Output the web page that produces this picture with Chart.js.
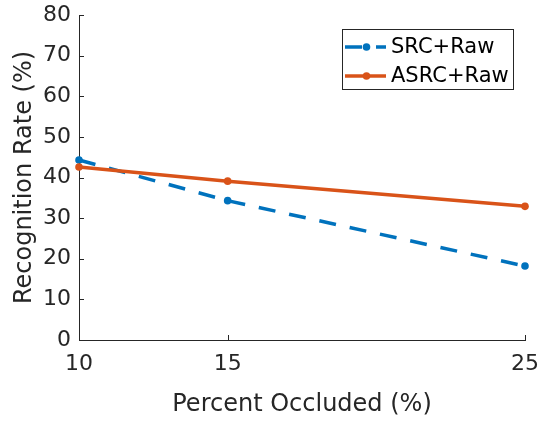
<!DOCTYPE html>
<html>
<head>
<meta charset="utf-8">
<script src="https://cdn.jsdelivr.net/npm/chart.js@4.4.1/dist/chart.umd.min.js"></script>
<style>
  html, body { margin: 0; padding: 0; background: #ffffff; }
  #wrap { width: 544px; height: 421px; }
</style>
</head>
<body>
<div id="wrap"><canvas id="chart" width="544" height="421"></canvas></div>
<script>
// Recognition rate against the share of the face that is occluded
const percentOccluded = [10, 15, 25];
const srcRaw = [44.3, 34.3, 18.2];
const asrcRaw = [42.6, 39.1, 32.9];
const seriesNames = ['SRC+Raw', 'ASRC+Raw'];
const xTickValues = [10, 15, 25];
const yTickValues = [0, 10, 20, 30, 40, 50, 60, 70, 80];

const BLUE = '#0072BD';
const ORANGE = '#D95319';
const AXIS = '#262626';
const FONT = '"DejaVu Sans", "Liberation Sans", sans-serif';
const LINE_W = 3.5;
const DOT_R = 3.8;
const DASH = [17, 14];

Chart.defaults.font.family = FONT;

const toPoints = ys => percentOccluded.map((x, i) => ({ x: x, y: ys[i] }));

// Small tick marks pointing into the plot on the left and bottom axes
const inwardTicks = {
  id: 'inwardTicks',
  afterDraw(chart) {
    const { ctx, chartArea, scales } = chart;
    const len = 5;
    ctx.save();
    ctx.strokeStyle = AXIS;
    ctx.lineWidth = 1;
    ctx.beginPath();
    yTickValues.forEach(v => {
      const y = Math.round(scales.y.getPixelForValue(v)) + 0.5;
      ctx.moveTo(chartArea.left, y);
      ctx.lineTo(chartArea.left + len, y);
    });
    xTickValues.forEach(v => {
      const x = Math.round(scales.x.getPixelForValue(v)) + 0.5;
      ctx.moveTo(x, chartArea.bottom);
      ctx.lineTo(x, chartArea.bottom - len);
    });
    ctx.stroke();
    ctx.restore();
  }
};

// Boxed legend in the upper right corner of the plot
const boxLegend = {
  id: 'boxLegend',
  afterDraw(chart) {
    const { ctx, chartArea } = chart;
    const w = 171, h = 60;
    const left = chartArea.right - 12 - w;
    const top = chartArea.top + 14;
    ctx.save();
    ctx.fillStyle = '#ffffff';
    ctx.fillRect(left, top, w, h);
    ctx.strokeStyle = AXIS;
    ctx.lineWidth = 1;
    ctx.strokeRect(Math.round(left) + 0.5, Math.round(top) + 0.5, w, h);

    const rows = [
      { name: seriesNames[0], color: BLUE, dash: DASH, y: top + 18 },
      { name: seriesNames[1], color: ORANGE, dash: [], y: top + 47 }
    ];
    rows.forEach(r => {
      const x0 = left + 3, x1 = left + 44;
      ctx.strokeStyle = r.color;
      ctx.lineWidth = LINE_W;
      ctx.lineCap = 'butt';
      ctx.setLineDash(r.dash);
      ctx.beginPath();
      ctx.moveTo(x0, r.y);
      ctx.lineTo(x1, r.y);
      ctx.stroke();
      ctx.setLineDash([]);
      ctx.fillStyle = r.color;
      ctx.beginPath();
      ctx.arc((x0 + x1) / 2 + 1, r.y, DOT_R, 0, Math.PI * 2);
      ctx.fill();
      ctx.fillStyle = '#000000';
      ctx.font = '21px ' + FONT;
      ctx.textAlign = 'left';
      ctx.textBaseline = 'middle';
      ctx.fillText(r.name, left + 49, r.y + 1);
    });
    ctx.restore();
  }
};

new Chart(document.getElementById('chart'), {
  type: 'line',
  data: {
    datasets: [
      {
        label: seriesNames[0],
        data: toPoints(srcRaw),
        borderColor: BLUE,
        backgroundColor: BLUE,
        borderWidth: LINE_W,
        borderDash: DASH,
        borderCapStyle: 'butt',
        pointRadius: DOT_R,
        pointBorderWidth: 0,
        pointBackgroundColor: BLUE,
        tension: 0,
        clip: false,
        order: 1
      },
      {
        label: seriesNames[1],
        data: toPoints(asrcRaw),
        borderColor: ORANGE,
        backgroundColor: ORANGE,
        borderWidth: LINE_W,
        pointRadius: DOT_R,
        pointBorderWidth: 0,
        pointBackgroundColor: ORANGE,
        tension: 0,
        clip: false,
        order: 0
      }
    ]
  },
  options: {
    responsive: false,
    animation: false,
    devicePixelRatio: 1,
    layout: { padding: { top: 15, right: 19, left: 0, bottom: 0 } },
    plugins: {
      legend: { display: false },
      tooltip: { enabled: false }
    },
    scales: {
      x: {
        type: 'linear',
        min: 10,
        max: 25,
        afterBuildTicks: s => { s.ticks = xTickValues.map(v => ({ value: v })); },
        afterFit: s => { s.height = 81; s.paddingLeft = 0; s.paddingRight = 0; },
        grid: { display: true, drawOnChartArea: false, drawTicks: false },
        border: { display: true, color: AXIS, width: 1 },
        ticks: {
          color: AXIS,
          font: { size: 22 },
          padding: 11,
          maxRotation: 0,
          autoSkip: false
        },
        title: {
          display: true,
          text: 'Percent Occluded (%)',
          color: AXIS,
          font: { size: 24, lineHeight: 1.2 },
          padding: { top: 0, bottom: 2 }
        }
      },
      y: {
        type: 'linear',
        min: 0,
        max: 80,
        afterBuildTicks: s => { s.ticks = yTickValues.map(v => ({ value: v })); },
        afterFit: s => { s.width = 79; s.paddingTop = 0; s.paddingBottom = 0; },
        grid: { display: true, drawOnChartArea: false, drawTicks: false },
        border: { display: true, color: AXIS, width: 1 },
        ticks: {
          color: AXIS,
          font: { size: 22 },
          padding: 8,
          autoSkip: false
        },
        title: {
          display: true,
          text: 'Recognition Rate (%)',
          color: AXIS,
          font: { size: 24, lineHeight: 1.2 },
          padding: { top: 10, bottom: 0 }
        }
      }
    }
  },
  plugins: [inwardTicks, boxLegend]
});
</script>
</body>
</html>
